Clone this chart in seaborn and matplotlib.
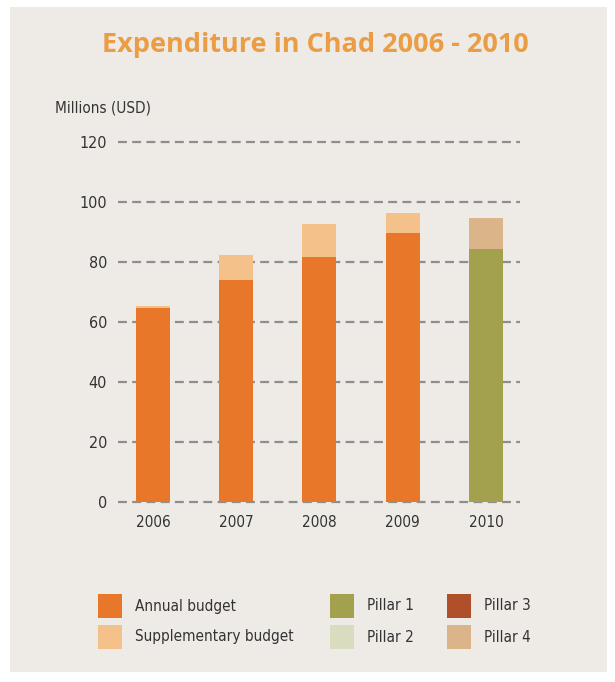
import matplotlib
matplotlib.use("Agg")
import matplotlib.pyplot as plt
import seaborn as sns
from matplotlib.patches import Rectangle

years = ["2006", "2007", "2008", "2009", "2010"]
annual = [64.7, 74.0, 81.7, 89.8, 0.0]
supplementary = [0.6, 8.3, 11.0, 6.6, 0.0]
pillar1 = [0.0, 0.0, 0.0, 0.0, 84.3]
pillar2 = [0.0, 0.0, 0.0, 0.0, 0.0]
pillar3 = [0.0, 0.0, 0.0, 0.0, 0.0]
pillar4 = [0.0, 0.0, 0.0, 0.0, 10.4]
yticks = [0, 20, 40, 60, 80, 100, 120]

series_names = ["Annual budget", "Supplementary budget", "Pillar 1", "Pillar 2", "Pillar 3", "Pillar 4"]
series_vals = [annual, supplementary, pillar1, pillar2, pillar3, pillar4]
colors = ["#e8772a", "#f3c189", "#a3a04e", "#dadcc0", "#b0502a", "#dcb489"]

sns.set_theme(style="white")
plt.rcParams["font.family"] = ["DejaVu Sans"]
plt.rcParams["font.stretch"] = "condensed"

W, H = 615, 682
fig = plt.figure(figsize=(W / 100, H / 100), dpi=100, facecolor="white")
fig.patches.append(Rectangle((10 / W, 1 - 672 / H), 597 / W, 665 / H,
                             transform=fig.transFigure, facecolor="#eeebe6",
                             edgecolor="none", zorder=-10))

ax = fig.add_axes([118 / W, (H - 505) / H, 402 / W, 366 / H])
ax.set_facecolor("none")
for s in ax.spines.values():
    s.set_visible(False)

bottom = [0.0] * len(years)
for name, vals, c in zip(series_names, series_vals, colors):
    sns.barplot(x=years, y=vals, bottom=bottom, color=c, width=0.41,
                ax=ax, zorder=3, linewidth=0, saturation=1)
    bottom = [b + v for b, v in zip(bottom, vals)]

ax.set_xlim(-0.42, 4.41)
ax.set_ylim(-1, 121)
for t in yticks:
    ax.axhline(t, color="#8e8e8e", lw=1.6, ls=(0, (4.0, 2.4)), zorder=1)

ax.set_yticks(yticks)
ax.tick_params(axis="y", length=0, labelsize=11.5, colors="#333333", pad=8)
ax.tick_params(axis="x", length=0, labelsize=11, colors="#333333", pad=7)
for lab in ax.get_xticklabels() + ax.get_yticklabels():
    lab.set_fontstretch("condensed")
ax.set_xlabel("")
ax.set_ylabel("")

fig.text(55 / W, 1 - 108 / H, "Millions (USD)", fontsize=11, color="#333333",
         va="center", ha="left", fontstretch="condensed")
fig.text(315 / W, 1 - 45 / H, "Expenditure in Chad 2006 - 2010", fontsize=19.5,
         fontweight="bold", color="#eb9d45", ha="center", va="center",
         family=["Open Sans", "DejaVu Sans"], fontstretch="normal")

# legend
col_x = [98, 330, 447]
row_y = [606, 637]
for i, (name, c) in enumerate(zip(series_names, colors)):
    cx = col_x[i // 2]
    cy = row_y[i % 2]
    fig.patches.append(Rectangle((cx / W, 1 - (cy + 12) / H), 24 / W, 24 / H,
                                 transform=fig.transFigure, facecolor=c,
                                 edgecolor="none"))
    fig.text((cx + 37) / W, 1 - cy / H, name, fontsize=11, color="#333333",
             va="center", ha="left", fontstretch="condensed")

fig.savefig("out.png", dpi=100, facecolor="white")
